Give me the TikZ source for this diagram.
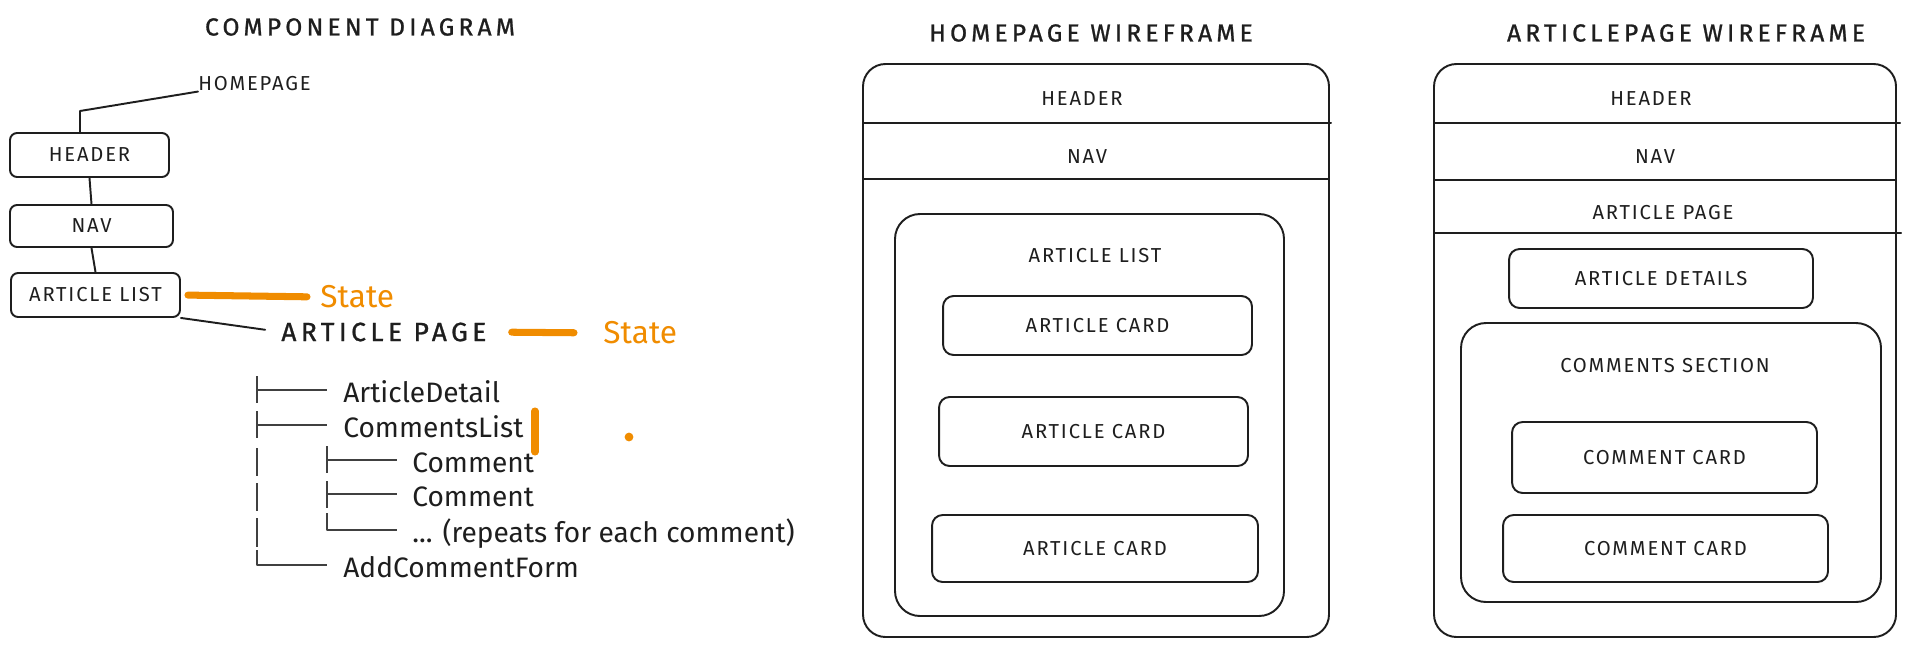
\documentclass[tikz,border=0pt]{standalone}
\usepackage{fontspec}
\setmainfont{Fira Sans}
\newfontfamily\capsfont[LetterSpace=9]{Fira Sans}
\newfontfamily\titlefont[LetterSpace=17,FakeBold=1]{Fira Sans}
\newfontfamily\handfont{Fira Sans}
\definecolor{sketchblack}{HTML}{1E1E1E}
\definecolor{sketchorange}{HTML}{F08C00}

\begin{document}
\begin{tikzpicture}[line cap=round,line join=round,x=0.02cm,y=-0.02cm,
	sketchline/.style={draw=sketchblack,line width=1.1pt},
	compbox/.style={draw=sketchblack,line width=1.1pt,rounded corners=4pt,inner sep=0pt,text=sketchblack,font=\capsfont\fontsize{11.5}{13}\selectfont},
	wirecard/.style={draw=sketchblack,line width=1.1pt,rounded corners=6pt,inner sep=0pt,text=sketchblack,font=\capsfont\fontsize{11.5}{13}\selectfont},
	wirelabel/.style={inner sep=0pt,text=sketchblack,font=\capsfont\fontsize{11.5}{13}\selectfont},
	heading/.style={inner sep=0pt,text=sketchblack,font=\titlefont\fontsize{14}{16}\selectfont},
	treeitem/.style={anchor=base west,inner sep=0pt,text height=0.48cm,text depth=0pt,text=sketchblack,font=\handfont\fontsize{16}{19}\selectfont},
	treeline/.style={draw=sketchblack!85,line width=0.8pt,line cap=butt},
	statebar/.style={draw=sketchorange,line width=4pt},
	statetext/.style={anchor=west,inner sep=0pt,text=sketchorange,font=\handfont\fontsize{18}{21}\selectfont}]
	\useasboundingbox (0,0) rectangle (1915,646);
	% component diagram
	\node[heading] (comptitle) at (360,27) {COMPONENT DIAGRAM};
	\node[wirelabel,anchor=west] (home) at (198,84) {HOMEPAGE};
	\node[compbox,minimum width=3.18cm,minimum height=0.88cm] (header) at (89.5,155) {HEADER};
	\node[compbox,minimum width=3.26cm,minimum height=0.84cm] (nav) at (91.5,226) {NAV};
	\node[compbox,minimum width=3.38cm,minimum height=0.88cm] (list) at (95.5,295) {ARTICLE LIST};
	\coordinate (bend) at (80,111);
	\draw[sketchline] (home.south west) -- (bend) -- (bend |- header.north);
	\draw[sketchline] (header.south) -- (nav.north);
	\draw[sketchline] (nav.south) -- (list.north);
	\node[heading,anchor=west,font=\titlefont\fontsize{15}{17}\selectfont] (artpage) at (281,332) {ARTICLE PAGE};
	\draw[sketchline,shorten >=0.32cm] (list.south east) -- (artpage.west);
	\node[statetext] (state1) at (320,297) {State};
	\node[statetext] (state2) at (603,333) {State};
	\draw[statebar,shorten <=0.14cm,shorten >=0.26cm] (list.east) -- (state1.west);
	\draw[statebar,shorten <=0.5cm,shorten >=0.58cm] (artpage.east) -- (state2.west);
	\draw[statebar] (535,411) -- (535,452);
	\fill[sketchorange] (629,437) circle (2.5pt);
	% tree of the article page
	\node[treeitem] (detail) at (343,402) {ArticleDetail};
	\node[treeitem] (commentslist) at (343,437) {CommentsList};
	\node[treeitem] (commenta) at (412,472) {Comment};
	\node[treeitem] (commentb) at (412,506) {Comment};
	\node[treeitem] (repeats) at (412,542) {... (repeats for each comment)};
	\node[treeitem] (addform) at (343,577) {AddCommentForm};
	\coordinate (trunk) at (257,376);
	\coordinate (subtrunk) at (327,446);
	\draw[treeline] (257,376) -- (257,403);
	\draw[treeline] (257,411) -- (257,438);
	\draw[treeline] (257,448) -- (257,476);
	\draw[treeline] (257,483) -- (257,511);
	\draw[treeline] (257,518) -- (257,547);
	\draw[treeline] (327,446) -- (327,473);
	\draw[treeline] (327,481) -- (327,508);
	\draw[treeline,shorten >=0.32cm] (trunk |- detail.west) -- (detail.west);
	\draw[treeline,shorten >=0.32cm] (trunk |- commentslist.west) -- (commentslist.west);
	\draw[treeline,shorten >=0.3cm] (subtrunk |- commenta.west) -- (commenta.west);
	\draw[treeline,shorten >=0.3cm] (subtrunk |- commentb.west) -- (commentb.west);
	\draw[treeline,shorten >=0.3cm] (327,513) |- (repeats.west);
	\draw[treeline,shorten >=0.32cm] (257,550) |- (addform.west);
	% homepage wireframe
	\node[heading] (hometitle) at (1091,33) {HOMEPAGE WIREFRAME};
	\draw[sketchline,rounded corners=0.45cm] (863,64) rectangle (1329,637);
	\draw[sketchline] (863,123) -- (1331,123);
	\draw[sketchline] (863,179) -- (1329,179);
	\node[wirelabel] (homeheader) at (1082,99) {HEADER};
	\node[wirelabel] (homenav) at (1087,157) {NAV};
	\draw[sketchline,rounded corners=0.5cm] (895,214) rectangle (1284,616);
	\node[wirelabel] (listlabel) at (1095,256) {ARTICLE LIST};
	\node[wirecard,minimum width=6.18cm,minimum height=1.18cm] (carda) at (1097.5,325.5) {ARTICLE CARD};
	\node[wirecard,minimum width=6.18cm,minimum height=1.38cm] (cardb) at (1093.5,431.5) {ARTICLE CARD};
	\node[wirecard,minimum width=6.52cm,minimum height=1.34cm] (cardc) at (1095,548.5) {ARTICLE CARD};
	% articlepage wireframe
	\node[heading] (arttitle) at (1686,33) {ARTICLEPAGE WIREFRAME};
	\draw[sketchline,rounded corners=0.45cm] (1434,64) rectangle (1896,637);
	\draw[sketchline] (1434,123) -- (1900,123);
	\draw[sketchline] (1434,180) -- (1896,180);
	\draw[sketchline] (1434,233) -- (1901,233);
	\node[wirelabel] (artheader) at (1651,99) {HEADER};
	\node[wirelabel] (artnav) at (1655,157) {NAV};
	\node[wirelabel] (artpagelabel) at (1663,213) {ARTICLE PAGE};
	\node[wirecard,minimum width=6.08cm,minimum height=1.18cm] (details) at (1661,278.5) {ARTICLE DETAILS};
	\draw[sketchline,rounded corners=0.5cm] (1461,323) rectangle (1881,602);
	\node[wirelabel] (sectionlabel) at (1665,366) {COMMENTS SECTION};
	\node[wirecard,minimum width=6.1cm,minimum height=1.42cm] (commentcarda) at (1664.5,457.5) {COMMENT CARD};
	\node[wirecard,minimum width=6.5cm,minimum height=1.34cm] (commentcardb) at (1665.5,548.5) {COMMENT CARD};
\end{tikzpicture}
\end{document}
